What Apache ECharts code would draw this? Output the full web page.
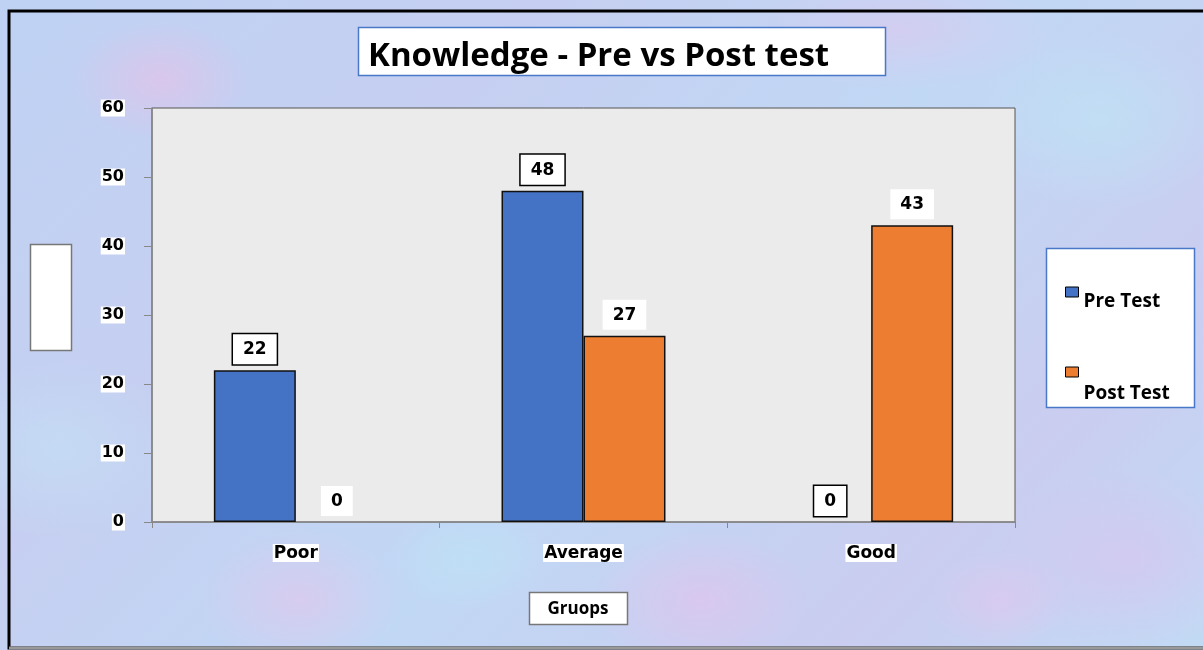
<!DOCTYPE html>
<html>
<head>
<meta charset="utf-8">
<script src="https://cdn.jsdelivr.net/npm/echarts@6/dist/echarts.min.js"></script>
<style>
html,body{margin:0;padding:0;background:#fff;}
#chart{width:1203px;height:650px;
background:
radial-gradient(ellipse 90px 60px at 160px 80px, rgba(236,190,230,0.55), transparent),
radial-gradient(ellipse 120px 80px at 420px 300px, rgba(230,185,230,0.45), transparent),
radial-gradient(ellipse 110px 70px at 700px 600px, rgba(235,190,235,0.5), transparent),
radial-gradient(ellipse 130px 90px at 1100px 120px, rgba(190,230,245,0.6), transparent),
radial-gradient(ellipse 100px 70px at 300px 600px, rgba(235,195,235,0.5), transparent),
radial-gradient(ellipse 140px 90px at 1130px 560px, rgba(225,190,240,0.45), transparent),
radial-gradient(ellipse 120px 90px at 60px 450px, rgba(195,225,245,0.6), transparent),
radial-gradient(ellipse 160px 60px at 900px 30px, rgba(230,195,235,0.45), transparent),
radial-gradient(ellipse 80px 50px at 470px 560px, rgba(190,228,246,0.6), transparent),
radial-gradient(ellipse 70px 50px at 1000px 600px, rgba(232,195,238,0.5), transparent),
linear-gradient(135deg,#bfd2f3 0%,#c6cff1 30%,#c1d8f5 55%,#cacdf0 80%,#c1daf4 100%);
}
</style>
</head>
<body>
<div id="chart"></div>
<script>
const categories = ['Poor', 'Average', 'Good'];
const preTest = [22, 48, 0];
const postTest = [0, 27, 43];
const yTicks = { min: 0, max: 60, interval: 10 };
const seriesNames = ['Pre Test', 'Post Test'];
const titleText = 'Knowledge - Pre vs Post test';
const xAxisTitle = 'Gruops';

const chart = echarts.init(document.getElementById('chart'), null, {renderer: 'canvas'});

const labelBase = {
  show: true, position: 'top', distance: 6,
  fontFamily: 'DejaVu Sans', fontWeight: 'bold', fontSize: 17, color: '#000',
  backgroundColor: '#fff', padding: [7, 10, 6, 10]
};
// zero-height bars draw no outline
const toData = arr => arr.map(v => v === 0 ? { value: v, itemStyle: { borderWidth: 0 } } : v);

const legendText = { fontFamily: 'Open Sans', fontWeight: 'bold', fontSize: 19, color: '#000' };

chart.setOption({
  animation: false,
  backgroundColor: 'transparent',
  grid: { left: 152, right: 188, top: 108, bottom: 128, show: true,
          backgroundColor: '#ebebeb', borderColor: '#555', borderWidth: 1 },
  graphic: [
    { type: 'rect', shape: { x: 9, y: 11, width: 1200, height: 637 },
      style: { fill: 'none', stroke: '#000', lineWidth: 3 }, z: 100 },
    { type: 'line', shape: { x1: 9, y1: 648, x2: 1203, y2: 648 },
      style: { stroke: '#999', lineWidth: 3 }, z: 101 },
    { type: 'rect', shape: { x: 358.5, y: 27.5, width: 527, height: 48 },
      style: { fill: '#fff', stroke: '#4a78c8', lineWidth: 1.5 } },
    { type: 'text', x: 368, y: 57, style: { text: titleText, fill: '#000',
      font: 'bold 33px "Open Sans"', textVerticalAlign: 'middle' } },
    { type: 'rect', shape: { x: 30.5, y: 244.5, width: 41, height: 106 },
      style: { fill: '#fff', stroke: '#777', lineWidth: 1.5 } },
    { type: 'rect', shape: { x: 529.5, y: 592.5, width: 98, height: 32 },
      style: { fill: '#fff', stroke: '#777', lineWidth: 1.5 } },
    { type: 'text', x: 578, y: 609, style: { text: xAxisTitle, fill: '#000',
      font: 'bold 17px "Open Sans"', textAlign: 'center', textVerticalAlign: 'middle' } },
    { type: 'rect', shape: { x: 1046.5, y: 248.5, width: 148, height: 159 },
      style: { fill: '#fff', stroke: '#4a78c8', lineWidth: 1.5 } }
  ],
  legend: [
    { data: [seriesNames[0]], left: 1060, top: 267, itemWidth: 13, itemHeight: 10, icon: 'rect',
      itemStyle: { borderColor: '#000', borderWidth: 1 }, z: 10, itemGap: 4, selectedMode: false,
      formatter: n => '\n' + n,
      textStyle: Object.assign({ lineHeight: 20 }, legendText) },
    { data: [seriesNames[1]], left: 1060, top: 323, itemWidth: 13, itemHeight: 10, icon: 'rect',
      itemStyle: { borderColor: '#000', borderWidth: 1 }, z: 10, itemGap: 4, selectedMode: false,
      formatter: n => '\n' + n,
      textStyle: Object.assign({ lineHeight: 44 }, legendText) }
  ],
  xAxis: {
    type: 'category', data: categories,
    axisLine: { show: true, lineStyle: { color: '#888', width: 1.5 } },
    axisTick: { show: true, length: 6, alignWithLabel: false, lineStyle: { color: '#888' } },
    axisLabel: { margin: 22, fontFamily: 'DejaVu Sans', fontWeight: 'bold', fontSize: 17,
                 color: '#000', backgroundColor: '#fff', padding: [1, 1, 0, 1] },
    splitLine: { show: false }
  },
  yAxis: {
    type: 'value', min: yTicks.min, max: yTicks.max, interval: yTicks.interval,
    axisLine: { show: true, lineStyle: { color: '#888', width: 1.5 } },
    axisTick: { show: true, length: 8, lineStyle: { color: '#888' } },
    axisLabel: { margin: 27, fontFamily: 'DejaVu Sans', fontWeight: 'bold', fontSize: 16,
                 color: '#000', backgroundColor: '#fff', padding: [1, 1, 0, 1] },
    splitLine: { show: false }
  },
  series: [
    { name: seriesNames[0], type: 'bar', data: toData(preTest), barGap: '0%', barCategoryGap: '43%',
      itemStyle: { color: '#4472c4', borderColor: '#111', borderWidth: 1.5 },
      label: Object.assign({}, labelBase, { borderColor: '#000', borderWidth: 1.5 }) },
    { name: seriesNames[1], type: 'bar', data: toData(postTest),
      itemStyle: { color: '#ed7d31', borderColor: '#111', borderWidth: 1.5 },
      label: Object.assign({}, labelBase) }
  ]
});
</script>
</body>
</html>
